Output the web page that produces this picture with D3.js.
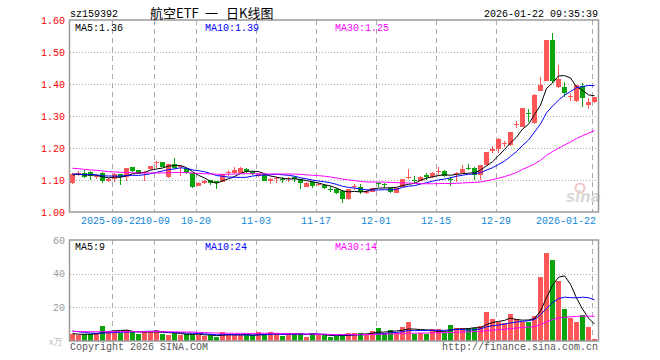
<!DOCTYPE html>
<html><head><meta charset="utf-8">
<script src="https://cdn.jsdelivr.net/npm/d3@7"></script>
<style>
body{margin:0;background:#fff;}
text{font-family:"Liberation Mono","DejaVu Sans Mono",monospace;font-size:10px;}
</style></head>
<body><svg id="c" width="660" height="360"></svg>
<script>
const dates = ["2025-09-11","2025-09-12","2025-09-15","2025-09-16","2025-09-17","2025-09-18","2025-09-19",
"2025-09-22","2025-09-23","2025-09-24","2025-09-25","2025-09-26","2025-09-29","2025-09-30",
"2025-10-09","2025-10-10","2025-10-13","2025-10-14","2025-10-15","2025-10-16","2025-10-17",
"2025-10-20","2025-10-21","2025-10-22","2025-10-23","2025-10-24","2025-10-27","2025-10-28","2025-10-29","2025-10-30","2025-10-31",
"2025-11-03","2025-11-04","2025-11-05","2025-11-06","2025-11-07","2025-11-10","2025-11-11","2025-11-12","2025-11-13","2025-11-14",
"2025-11-17","2025-11-18","2025-11-19","2025-11-20","2025-11-21","2025-11-24","2025-11-25","2025-11-26","2025-11-27","2025-11-28",
"2025-12-01","2025-12-02","2025-12-03","2025-12-04","2025-12-05","2025-12-08","2025-12-09","2025-12-10","2025-12-11","2025-12-12",
"2025-12-15","2025-12-16","2025-12-17","2025-12-18","2025-12-19","2025-12-22","2025-12-23","2025-12-24","2025-12-25","2025-12-26",
"2025-12-29","2025-12-30","2025-12-31","2026-01-05","2026-01-06","2026-01-07","2026-01-08","2026-01-09",
"2026-01-12","2026-01-13","2026-01-14","2026-01-15","2026-01-16","2026-01-19","2026-01-20","2026-01-21","2026-01-22"];

const open  = [1.092,1.118,1.123,1.125,1.108,1.123,1.097,1.102,1.119,1.108,1.140,1.130,1.121,1.134,1.152,1.155,1.108,1.150,1.141,1.137,1.121,1.082,
1.090,1.100,1.096,1.095,1.121,1.121,1.121,1.135,1.126,1.112,1.118,1.097,1.104,1.102,1.104,1.108,1.102,1.079,1.095,1.084,1.084,1.072,
1.072,1.066,1.040,1.079,1.079,1.060,1.064,1.091,1.087,1.074,1.060,1.079,1.105,1.101,1.098,1.116,1.108,1.126,1.128,1.103,1.123,1.123,
1.137,1.137,1.117,1.146,1.190,1.198,1.215,1.208,1.271,1.267,1.308,1.278,1.379,1.410,1.536,1.390,1.390,1.360,1.346,1.393,1.333,1.344];
const close = [1.120,1.121,1.108,1.111,1.113,1.098,1.104,1.119,1.108,1.137,1.127,1.120,1.126,1.144,1.155,1.142,1.149,1.137,1.144,1.121,1.079,1.092,
1.096,1.090,1.091,1.118,1.124,1.131,1.139,1.124,1.119,1.118,1.098,1.103,1.107,1.100,1.107,1.102,1.090,1.092,1.082,1.088,1.074,1.071,
1.058,1.040,1.071,1.082,1.062,1.067,1.074,1.089,1.084,1.064,1.074,1.102,1.108,1.100,1.110,1.109,1.123,1.128,1.112,1.102,1.123,1.134,
1.136,1.117,1.146,1.188,1.198,1.229,1.216,1.250,1.275,1.325,1.305,1.367,1.398,1.536,1.408,1.417,1.372,1.362,1.396,1.356,1.344,1.358];
const high  = [1.123,1.128,1.131,1.127,1.116,1.126,1.106,1.121,1.120,1.138,1.142,1.132,1.128,1.145,1.160,1.157,1.150,1.170,1.146,1.138,1.122,1.094,
1.099,1.101,1.098,1.119,1.130,1.140,1.140,1.136,1.128,1.120,1.120,1.105,1.109,1.108,1.110,1.112,1.104,1.093,1.096,1.090,1.086,1.080,
1.074,1.068,1.072,1.087,1.088,1.068,1.075,1.095,1.092,1.079,1.075,1.103,1.133,1.112,1.112,1.121,1.124,1.140,1.130,1.110,1.126,1.147,
1.150,1.140,1.148,1.189,1.205,1.231,1.221,1.251,1.283,1.326,1.323,1.368,1.421,1.537,1.559,1.458,1.406,1.372,1.397,1.403,1.356,1.360];
const low   = [1.088,1.112,1.105,1.100,1.104,1.090,1.094,1.095,1.083,1.098,1.125,1.118,1.098,1.132,1.137,1.140,1.106,1.135,1.112,1.118,1.074,1.080,
1.088,1.085,1.071,1.093,1.113,1.119,1.120,1.122,1.116,1.108,1.096,1.088,1.091,1.092,1.095,1.095,1.071,1.078,1.076,1.082,1.073,1.063,
1.056,1.027,1.038,1.068,1.057,1.055,1.062,1.079,1.074,1.058,1.058,1.078,1.102,1.092,1.096,1.100,1.106,1.112,1.110,1.081,1.095,1.121,
1.131,1.101,1.101,1.145,1.185,1.185,1.202,1.206,1.263,1.265,1.281,1.276,1.377,1.408,1.403,1.389,1.358,1.348,1.345,1.328,1.323,1.342];
const volume = [4.3,3.3,3.9,4.3,5.0,9.0,6.0,6.0,5.0,6.4,5.4,4.3,5.4,5.4,6.4,4.3,3.3,5.0,3.3,4.3,4.3,3.3,
2.9,3.3,2.3,5.4,4.3,3.3,3.3,3.3,3.3,5.4,3.9,5.4,3.9,2.9,4.6,4.6,4.6,2.3,4.6,3.9,3.3,2.3,
3.0,3.6,4.6,4.6,4.6,3.6,6.0,7.6,4.6,6.6,5.0,8.3,11.3,4.2,5.0,4.2,7.0,7.0,4.6,9.3,7.6,7.6,
7.6,7.6,9.0,17.4,13.1,11.1,10.5,16.0,12.9,11.5,11.5,14.9,38.2,52.5,48.1,35.6,19.0,13.5,11.5,15.5,8.5,1.2];
// closes / volumes of the 29 sessions before the first shown day (only used for the moving averages)
const priorClose = [1.16,1.17,1.16,1.15,1.16,1.17,1.15,1.14,1.15,1.16,1.14,1.13,1.14,1.15,1.14,1.13,1.12,1.13,1.14,1.12,
1.13,1.12,1.11,1.12,1.13,1.11,1.12,1.11,1.12];
const priorVolume = [6.2,5.1,7.4,6.0,5.3,4.8,6.6,5.9,4.7,5.5,6.8,5.2,4.9,6.1,5.6,4.4,5.8,6.3,5.0,4.6,
7.5,8.2,7.9,6.4,7.1,5.2,4.1,3.8,4.6];

const tickDates  = ["2025-09-22","2025-10-09","2025-10-20","2025-11-03","2025-11-17","2025-12-01","2025-12-15","2025-12-29","2026-01-22"];
const tickLabels = ["2025-09-22","10-09","10-20","11-03","11-17","12-01","12-15","12-29","2026-01-22"];
const priceTicks = [1.00,1.10,1.20,1.30,1.40,1.50,1.60];
const volTicks = [20,40,60];
const maPeriods = [5,10,30];
const maLegendPrice = ["1.36","1.39","1.25"];
const maLegendVol = ["9","24","14"];
const titleParts = ["航空ETF","一","日K线图"];

const RED="#ff5757", GREEN="#0aa50a", GRID="#aaaaaa", BORDER="#9a9a9a";
const maColors=["#000000","#0000ff","#ff00ff"];
const svg=d3.select("#c");

const L=70,R=598, PT=20,PB=212, VT=240,VB=341;
const x=d3.scaleBand().domain(dates).range([L,R]).paddingInner(0).paddingOuter(0);
const bw=x.bandwidth();
const yP=d3.scaleLinear().domain([1.0,1.6]).range([PB,PT]);
const yV=d3.scaleLinear().domain([0,60]).range([VB,VT]);

function ma(series, prior, n){
  const all=prior.concat(series), off=prior.length;
  return series.map((_,i)=>{const j=i+off; return d3.mean(all.slice(j-n+1,j+1));});
}

// grids
const g=svg.append("g").attr("shape-rendering","crispEdges");
[1.1,1.2,1.3,1.4,1.5].forEach(v=>g.append("line").attr("x1",L).attr("x2",R).attr("y1",Math.round(yP(v))+0.5).attr("y2",Math.round(yP(v))+0.5)
  .attr("stroke",GRID).attr("stroke-dasharray","1,2"));
[20,40].forEach(v=>g.append("line").attr("x1",L).attr("x2",R).attr("y1",Math.round(yV(v))+0.5).attr("y2",Math.round(yV(v))+0.5)
  .attr("stroke",GRID).attr("stroke-dasharray","1,2"));
tickDates.forEach(d=>{
  const xx=Math.round(x(d))+0.5;
  g.append("line").attr("x1",xx).attr("x2",xx).attr("y1",PT).attr("y2",PB).attr("stroke",GRID).attr("stroke-dasharray","5,4");
  g.append("line").attr("x1",xx).attr("x2",xx).attr("y1",VT).attr("y2",VB).attr("stroke",GRID).attr("stroke-dasharray","5,4");
});

// watermark
const wm=svg.append("g");
wm.append("circle").attr("cx",580).attr("cy",188).attr("r",4.5).attr("fill","none").attr("stroke","#f3c4c4").attr("stroke-width",2);
wm.append("text").attr("x",566).attr("y",202).text("sina").style("font-family","DejaVu Sans").style("font-size","15px")
  .style("font-style","italic").style("font-weight","bold").attr("fill","#d9d9d9");

// candles + volume bars
const cg=svg.append("g").attr("shape-rendering","crispEdges");
dates.forEach((d,i)=>{
  const up=close[i]>=open[i], col=up?RED:GREEN, x0=Math.round(x(d));
  cg.append("line").attr("x1",x0+2.5).attr("x2",x0+2.5).attr("y1",yP(high[i])).attr("y2",yP(low[i])).attr("stroke",col);
  const yt=yP(Math.max(open[i],close[i])), yb=yP(Math.min(open[i],close[i]));
  cg.append("rect").attr("x",x0).attr("width",bw-1).attr("y",yt).attr("height",Math.max(1,yb-yt)).attr("fill",col);
  cg.append("rect").attr("x",x0).attr("width",bw-1).attr("y",yV(volume[i])).attr("height",VB-yV(volume[i])).attr("fill",col);
});

// moving averages
const cx=d=>x(d)+2.5;
maPeriods.forEach((n,k)=>{
  const m=ma(close,priorClose,n);
  svg.append("path").datum(m).attr("fill","none").attr("stroke",maColors[k]).attr("stroke-width",1)
    .attr("d",d3.line().x((v,i)=>cx(dates[i])).y(v=>yP(v)));
  const mv=ma(volume,priorVolume,n);
  svg.append("path").datum(mv).attr("fill","none").attr("stroke",maColors[k]).attr("stroke-width",1)
    .attr("d",d3.line().x((v,i)=>cx(dates[i])).y(v=>yV(v)));
});

// borders
svg.append("rect").attr("x",L-0.5).attr("y",PT).attr("width",R-L+1).attr("height",PB-PT).attr("fill","none").attr("stroke",BORDER).attr("stroke-width",1.5);
svg.append("rect").attr("x",L-0.5).attr("y",VT).attr("width",R-L+1).attr("height",VB-VT).attr("fill","none").attr("stroke",BORDER).attr("stroke-width",1.5);

// axes
const ay=svg.append("g").attr("transform",`translate(${L-1},0)`)
  .call(d3.axisLeft(yP).tickValues(priceTicks).tickFormat(d3.format(".2f")).tickSize(0).tickPadding(4));
ay.select(".domain").remove();
ay.selectAll("text").attr("fill","#ff0000").style("font-size","10px");

const av=svg.append("g").attr("transform",`translate(${L-1},0)`)
  .call(d3.axisLeft(yV).tickValues(volTicks).tickSize(0).tickPadding(4));
av.select(".domain").remove();
av.selectAll("text").attr("fill","#999999").style("font-size","10px");

const ax=svg.append("g").attr("transform",`translate(${-bw/2},${PB})`)
  .call(d3.axisBottom(x).tickValues(tickDates).tickFormat((d,i)=>tickLabels[i]).tickSize(0).tickPadding(5));
ax.select(".domain").remove();
ax.selectAll("text").attr("fill","#1188d8").style("font-size","10px");
ax.selectAll(".tick").filter((d,i)=>i===0).select("text").attr("dx",-1);
ax.selectAll(".tick").filter((d,i)=>i===1).select("text").attr("dx",1);
ax.selectAll(".tick").filter((d,i)=>i===tickDates.length-1).select("text").attr("text-anchor","end").attr("dx",bw/2+1);

// header
svg.append("text").attr("x",70).attr("y",17).text("sz159392").attr("fill","#000");
const titleX=[150,205,226];
titleParts.forEach((t,k)=>svg.append("text").attr("x",titleX[k]).attr("y",18).text(t).attr("fill","#000")
  .style("font-family","'Noto Sans CJK SC','DejaVu Sans'").style("font-size","13px"));
svg.append("text").attr("x",598).attr("y",17).attr("text-anchor","end").text("2026-01-22 09:35:39").attr("fill","#000");

// legends
const legX=[75,205,335];
maPeriods.forEach((n,k)=>{
  svg.append("text").attr("x",legX[k]).attr("y",31).text(`MA${n}:${maLegendPrice[k]}`).attr("fill",maColors[k]);
  svg.append("text").attr("x",legX[k]).attr("y",250).text(`MA${n}:${maLegendVol[k]}`).attr("fill",maColors[k]);
});

// footer
svg.append("text").attr("x",49).attr("y",345).text("x万").attr("fill","#bbbbbb").style("font-family","'Noto Sans CJK SC'").style("font-size","9px");
svg.append("text").attr("x",70).attr("y",350).text("Copyright 2026 SINA.COM").attr("fill","#555");
svg.append("text").attr("x",598).attr("y",350).attr("text-anchor","end").text("http://finance.sina.com.cn").attr("fill","#555");
</script></body></html>
